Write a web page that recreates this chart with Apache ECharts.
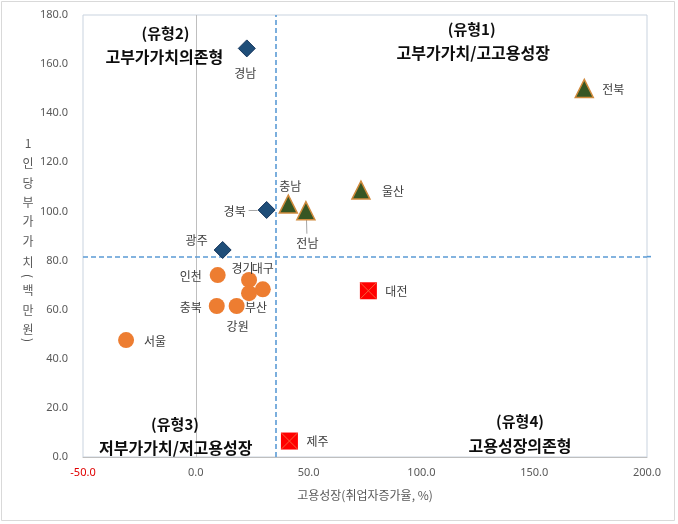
<!DOCTYPE html>
<html><head><meta charset="utf-8">
<script src="https://cdn.jsdelivr.net/npm/echarts@6/dist/echarts.min.js"></script>
<style>html,body{margin:0;padding:0;background:#fff}#c{width:678px;height:524px}</style>
</head><body><div id="c"></div>
<script>
// ---- data ----
const diamondNames = ['경남', '경북', '광주'];
const diamondX = [22.6, 31.4, 11.9];
const diamondY = [166.4, 100.6, 84.3];

const triangleNames = ['충남', '전남', '울산', '전북'];
const triangleX = [41.0, 48.8, 73.2, 172.2];
const triangleY = [103.0, 100.3, 108.7, 150.1];

const squareNames = ['대전', '제주'];
const squareX = [76.5, 41.5];
const squareY = [67.7, 6.5];

const circleNames = ['서울', '인천', '경기', '대구', '부산', '충북', '강원'];
const circleX = [-30.9, 9.7, 23.6, 29.7, 23.6, 9.3, 18.1];
const circleY = [47.6, 74.1, 72.1, 68.3, 66.7, 61.5, 61.5];

const xTicks = [-50, 0, 50, 100, 150, 200];
const yTicks = [0, 20, 40, 60, 80, 100, 120, 140, 160, 180];
const thresholdX = 35.4;   // 고용성장 기준
const thresholdY = 81.6;   // 부가가치 기준

const xAxisName = '고용성장(취업자증가율, %)';
const yAxisNameChars = ['1', '인', '당', '부', '가', '가', '치', '(', '백', '만', '원', ')'];
const quadrantTexts = [
  ['(유형2)', '고부가가치의존형'],
  ['(유형1)', '고부가가치/고고용성장'],
  ['(유형3)', '저부가가치/저고용성장'],
  ['(유형4)', '고용성장의존형']
];

// ---- styles / layout ----
const labelOffset = {
  '경남': [-1.5, 25], '경북': [-32, 1.5], '광주': [-26, -10],
  '충남': [2, -18], '전남': [1.5, 33], '울산': [32, 1.7], '전북': [29, 0.7],
  '대전': [28, 1], '제주': [28, 0.7],
  '서울': [29, 1.7], '인천': [-27, 1], '충북': [-26, 1.5], '경기': [-6.5, -12],
  '대구': [0, -21], '부산': [7, 14], '강원': [1, 20]
};
const KR = '"Noto Sans CJK KR", "Noto Sans", sans-serif';
const labelStyle = {
  show: true, position: 'inside', formatter: '{b}',
  color: '#404040', fontSize: 12, fontFamily: KR
};

function pts(names, xs, ys, withLabel) {
  return names.map((n, i) => {
    const d = { name: n, value: [xs[i], ys[i]] };
    if (withLabel) d.label = { offset: labelOffset[n] };
    return d;
  });
}

const chart = echarts.init(document.getElementById('c'), null, { renderer: 'canvas' });

const quadPos = [
  [[165.5, 33.5], [164.3, 57]],
  [[471.7, 29], [473.3, 52.5]],
  [[175, 424], [175.8, 447.5]],
  [[520, 421.7], [520, 446]]
];
const graphics = [
  { type: 'rect', shape: { x: 1.5, y: 1.5, width: 673, height: 519 },
    style: { fill: 'none', stroke: '#D9D9D9', lineWidth: 1 }, z: 0, silent: true }
];
quadrantTexts.forEach((pair, qi) => {
  pair.forEach((t, li) => {
    graphics.push({
      type: 'text', x: quadPos[qi][li][0], y: quadPos[qi][li][1], z: 10,
      style: { text: t, align: 'center', verticalAlign: 'middle',
        font: 'bold ' + (li === 0 ? 15 : 16) + 'px ' + KR, fill: '#0D0D0D' }
    });
  });
});
const yNamePos = [143, 163, 183, 202, 221, 241, 262, 276, 290, 310, 329, 340];
yAxisNameChars.forEach((ch, i) => {
  const paren = ch === '(' || ch === ')';
  graphics.push({
    type: 'text', x: 28, y: yNamePos[i], rotation: paren ? -Math.PI / 2 : 0,
    style: { text: ch, align: 'center', verticalAlign: 'middle',
      font: '12px ' + KR, fill: '#595959' }
  });
});

const option = {
  animation: false,
  backgroundColor: '#fff',
  grid: { left: 83, right: 31, top: 15, bottom: 67, show: true,
    borderColor: '#C9D3DF', borderWidth: 1, backgroundColor: '#fff' },
  xAxis: {
    type: 'value', min: xTicks[0], max: xTicks[xTicks.length - 1], interval: xTicks[1] - xTicks[0],
    axisLine: { show: true, onZero: false, lineStyle: { color: '#BFBFBF' } },
    axisTick: { show: false }, splitLine: { show: false },
    axisLabel: { margin: 10, fontSize: 11, fontFamily: '"Noto Sans", sans-serif',
      color: (v) => (v < 0 ? '#E00000' : '#595959'),
      formatter: (v) => v.toFixed(1) },
    name: xAxisName, nameLocation: 'middle', nameGap: 32,
    nameTextStyle: { color: '#595959', fontSize: 12, fontFamily: KR }
  },
  yAxis: {
    type: 'value', min: yTicks[0], max: yTicks[yTicks.length - 1], interval: yTicks[1] - yTicks[0],
    axisLine: { show: false }, axisTick: { show: false }, splitLine: { show: false },
    axisLabel: { margin: 15, fontSize: 11, fontFamily: '"Noto Sans", sans-serif',
      color: '#595959', formatter: (v) => v.toFixed(1) }
  },
  graphic: graphics,
  series: [
    { type: 'scatter', data: [], z: 1, silent: true,
      markLine: { silent: true, symbol: 'none', label: { show: false }, animation: false,
        data: [
          { xAxis: 0, lineStyle: { color: '#BFBFBF', width: 1, type: 'solid' } },
          { xAxis: thresholdX, lineStyle: { color: '#5B9BD5', width: 1.6, type: [5, 3] } },
          { yAxis: thresholdY, lineStyle: { color: '#5B9BD5', width: 1.6, type: [5, 3] } }
        ] } },
    { type: 'scatter', z: 5, symbol: 'circle', symbolSize: 16,
      itemStyle: { color: '#ED7D31', opacity: 1 }, label: labelStyle,
      data: pts(circleNames, circleX, circleY, true) },
    { type: 'scatter', z: 5, symbol: 'diamond', symbolSize: 17,
      itemStyle: { color: '#1F4E79', borderColor: '#17375E', borderWidth: 1, opacity: 1 },
      label: labelStyle, data: pts(diamondNames, diamondX, diamondY, true) },
    { type: 'scatter', z: 5, symbol: 'triangle', symbolSize: 18,
      itemStyle: { color: '#375623', borderColor: '#D08A3C', borderWidth: 1.5, opacity: 1 },
      label: labelStyle, data: pts(triangleNames, triangleX, triangleY, true) },
    { type: 'scatter', z: 5, symbol: 'rect', symbolSize: 17,
      itemStyle: { color: '#FF0000', opacity: 1 },
      label: labelStyle, data: pts(squareNames, squareX, squareY, true) },
    { type: 'scatter', z: 6, symbol: 'path://M0 0L10 10M10 0L0 10', symbolSize: 16, silent: true,
      itemStyle: { color: 'rgba(0,0,0,0)', borderColor: '#F4623A', borderWidth: 1, opacity: 1 },
      data: pts(squareNames, squareX, squareY, false) }
  ]
};
chart.setOption(option);

// leader lines for 경북 and 전남 labels
const gi = diamondNames.indexOf('경북');
const ji = triangleNames.indexOf('전남');
const p1 = chart.convertToPixel({ gridIndex: 0 }, [diamondX[gi], diamondY[gi]]);
const p2 = chart.convertToPixel({ gridIndex: 0 }, [triangleX[ji], triangleY[ji]]);
const pr = chart.convertToPixel({ gridIndex: 0 }, [xTicks[xTicks.length - 1], thresholdY]);
graphics.push(
  { type: 'line', z: 4, shape: { x1: p1[0] - 9, y1: p1[1] + 0.5, x2: p1[0] - 18, y2: p1[1] + 0.5 },
    style: { stroke: '#A6A6A6', lineWidth: 1 } },
  { type: 'line', z: 4, shape: { x1: p2[0] + 0.5, y1: p2[1] + 6, x2: p2[0] + 1, y2: p2[1] + 23 },
    style: { stroke: '#A6A6A6', lineWidth: 1 } },
  { type: 'line', z: 4, shape: { x1: pr[0], y1: pr[1], x2: pr[0] + 4, y2: pr[1] },
    style: { stroke: '#5B9BD5', lineWidth: 1.6, lineDash: [5, 3] } }
);
chart.setOption({ graphic: graphics });
</script></body></html>
